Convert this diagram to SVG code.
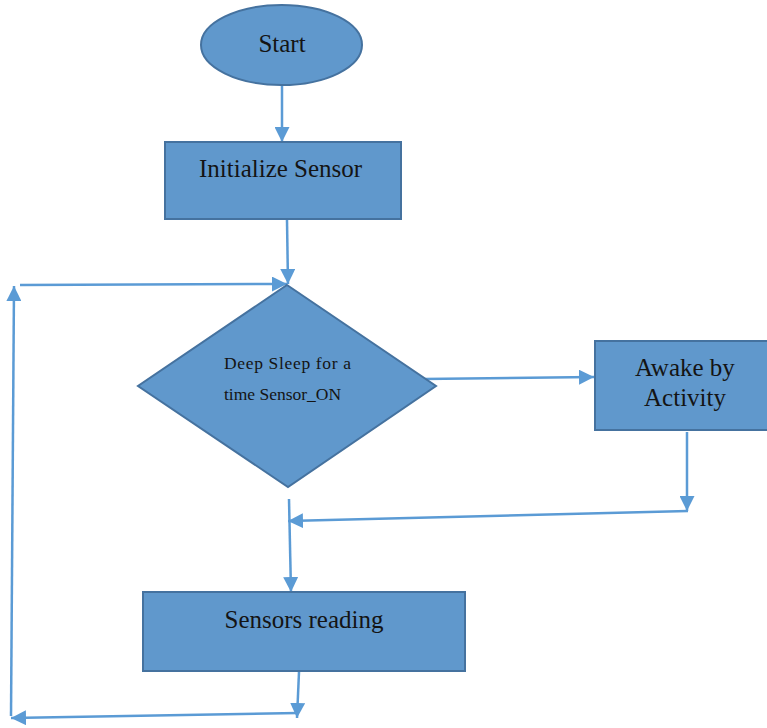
<svg xmlns="http://www.w3.org/2000/svg" width="767" height="728" viewBox="0 0 767 728">
<defs>
<style>
.node{fill:#6098cc;stroke:#45729f;stroke-width:2}
.lbl{font-family:"Liberation Serif","Times New Roman",serif;font-size:25px;fill:#141414}
.small{font-family:"Liberation Serif","Times New Roman",serif;font-size:17.5px;fill:#141414}
.conn{fill:none;stroke:#5b9bd5;stroke-width:2.5}
</style>
<marker id="ah" viewBox="0 0 14 14" refX="14" refY="7" markerWidth="15" markerHeight="15" markerUnits="userSpaceOnUse" orient="auto">
<path d="M0,0 L14,7 L0,14 Z" fill="#5b9bd5"/>
</marker>
</defs>
<rect width="767" height="728" fill="#ffffff"/>
<g id="connectors">
<line class="conn" x1="282" y1="85" x2="282" y2="142" marker-end="url(#ah)"/>
<line class="conn" x1="287" y1="220" x2="288" y2="284" marker-end="url(#ah)"/>
<line class="conn" x1="423" y1="379" x2="594" y2="377" marker-end="url(#ah)"/>
<line class="conn" x1="687" y1="432" x2="687" y2="511" marker-end="url(#ah)"/>
<line class="conn" x1="688" y1="511" x2="288" y2="521" marker-end="url(#ah)"/>
<line class="conn" x1="289" y1="499" x2="291" y2="592" marker-end="url(#ah)"/>
<line class="conn" x1="299" y1="672" x2="297" y2="718" marker-end="url(#ah)"/>
<line class="conn" x1="298" y1="713" x2="11" y2="718" marker-end="url(#ah)"/>
<line class="conn" x1="11" y1="716" x2="14" y2="286" marker-end="url(#ah)"/>
<line class="conn" x1="20" y1="285" x2="287" y2="284" marker-end="url(#ah)"/>
</g>
<g id="start">
<ellipse class="node" cx="281.5" cy="45" rx="80.5" ry="40"/>
<text class="lbl" x="282" y="52" text-anchor="middle">Start</text>
</g>
<g id="init">
<rect class="node" x="165" y="142" width="236" height="77"/>
<text class="lbl" x="199" y="177">Initialize Sensor</text>
</g>
<g id="sleep">
<polygon class="node" points="287,285 436,386 288,487 138,386"/>
<text class="small" x="224" y="369" textLength="127" lengthAdjust="spacing">Deep Sleep for a</text>
<text class="small" x="224" y="400">time Sensor_ON</text>
</g>
<g id="awake">
<rect class="node" x="595" y="341" width="173" height="89"/>
<text class="lbl" x="685" y="376" text-anchor="middle">Awake by</text>
<text class="lbl" x="685" y="406" text-anchor="middle">Activity</text>
</g>
<g id="reading">
<rect class="node" x="143" y="592" width="322" height="79"/>
<text class="lbl" x="304" y="628" text-anchor="middle">Sensors reading</text>
</g>
</svg>
